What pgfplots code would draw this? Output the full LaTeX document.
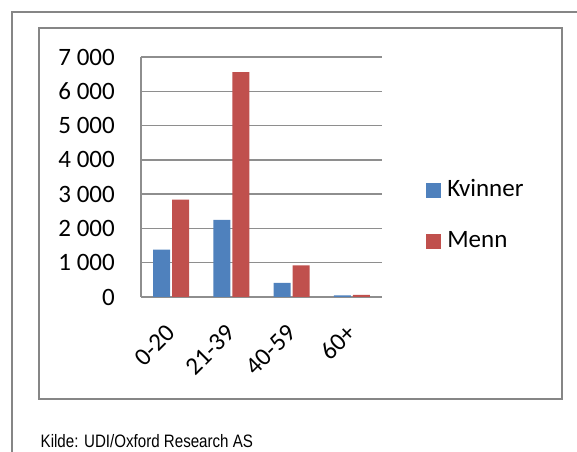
\documentclass[border=0pt]{standalone}
\usepackage{fontspec}
\setmainfont{Carlito}
\newfontfamily\narrowfont{Liberation Sans}[FakeStretch=0.84]
\usepackage{pgfplots}
\pgfplotsset{compat=1.18}
\definecolor{kvblue}{HTML}{4F81BD}
\definecolor{mnred}{HTML}{C0504D}
\definecolor{framegray}{HTML}{868686}
\definecolor{gridgray}{HTML}{8E8E8E}

\begin{document}
\begin{tikzpicture}[x=1bp, y=1bp]
% page area in image pixels: origin sits at the axis corner (141,297)
\path[use as bounding box] (-141,-155) rectangle (436,297);

% outer frame (only top and left edges are visible)
\draw[framegray, line width=1.4bp] (-129,-156) -- (-129,285) -- (437,285);
% chart area frame
\draw[framegray, line width=1.3bp] (-102,269) rectangle (421,-102);

\begin{axis}[
    at={(0,0)}, anchor=south west,
    scale only axis,
    width=241bp, height=240bp,
    ybar, bar width=17bp,
    xmin=-0.5, xmax=3.5,
    ymin=0, ymax=7000,
    ytick={0,1000,...,7000},
    xtick={0,1,2,3},
    xticklabels={0-20,21-39,40-59,60+},
    axis x line*=bottom, axis y line*=left,
    axis line style={gridgray, line width=1.4bp, -},
    ymajorgrids,
    grid style={gridgray, line width=1.4bp},
    major tick length=0,
    tick label style={font=\fontsize{25bp}{27bp}\selectfont},
    /pgf/number format/assume math mode=true,
    /pgf/number format/1000 sep={\ },
    yticklabel style={xshift=-26bp, inner sep=0pt},
    xticklabel style={xshift=0bp, yshift=-32bp, rotate=45, anchor=east, inner sep=0pt},
    legend style={
        at={(1.183,0.3385)}, anchor=west,
        draw=none, fill=none, inner sep=0pt,
        font=\fontsize{25bp}{27bp}\selectfont,
        row sep=27bp,
        nodes={inner sep=2bp, text height=16bp, text depth=4bp},
        /tikz/every odd column/.append style={column sep=4bp},
    },
    legend cell align=left,
    legend image code/.code={\fill[#1] (0bp,-7.5bp) rectangle (15bp,7.5bp);},
]
\addplot[fill=kvblue, draw=none] coordinates {
    (0,1380) (1,2250) (2,410) (3,50)
};
\addlegendentry{Kvinner}
\addplot[fill=mnred, draw=none] coordinates {
    (0,2840) (1,6560) (2,920) (3,60)
};
\addlegendentry{Menn}
\end{axis}

\node[anchor=base west, inner sep=0pt, font=\narrowfont\fontsize{18bp}{20bp}\selectfont]
    at (-100.5,-151) {Kilde: UDI/Oxford Research AS};
\end{tikzpicture}
\end{document}
